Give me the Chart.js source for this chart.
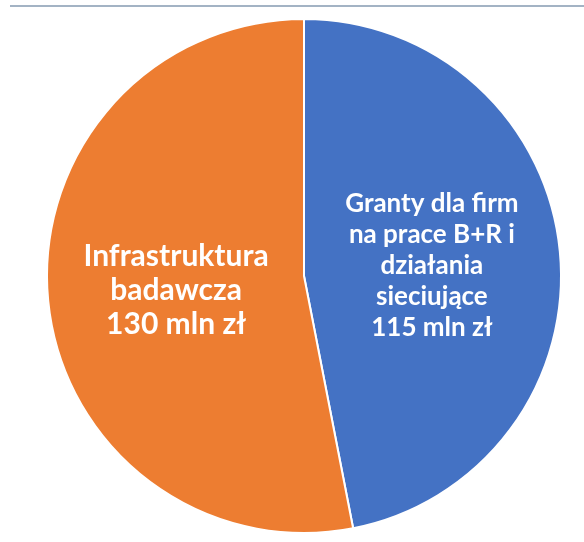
<!DOCTYPE html>
<html><head><meta charset="utf-8">
<script src="https://cdn.jsdelivr.net/npm/chart.js@4/dist/chart.umd.min.js"></script>
<style>html,body{margin:0;padding:0;background:#fff;}#wrap{width:584px;height:542px;position:relative;}</style>
</head><body><div id="wrap"><canvas id="c"></canvas></div>
<script>
const categories = ["Granty dla firm na prace B+R i działania sieciujące", "Infrastruktura badawcza"];
const categoryLines = [["Granty dla firm","na prace B+R i","działania","sieciujące"],["Infrastruktura","badawcza"]];
const values = [115, 130];
const unit = "mln zł";
const colors = ["#4472C4", "#ED7D31"];

const topLine = {id:'topLine', beforeDraw(chart){const c=chart.ctx;c.save();c.fillStyle='#fff';c.fillRect(0,0,chart.width,chart.height);c.strokeStyle='#a3b3c4';c.lineWidth=2;c.beginPath();c.moveTo(10,6);c.lineTo(chart.width,6);c.stroke();c.restore();}};
const sliceLabels = {id:'sliceLabels', afterDatasetsDraw(chart){
  const c=chart.ctx; const meta=chart.getDatasetMeta(0);
  const cfg=[{f:0.5,lh:31,dy:2,size:26},{f:0.5,lh:34,dy:2,size:30}];
  meta.data.forEach((arc,i)=>{
    const p=arc.getProps(['x','y','startAngle','endAngle','outerRadius'],true);
    const mid=(p.startAngle+p.endAngle)/2; const r=p.outerRadius*cfg[i].f;
    const x=p.x+Math.cos(mid)*r, y=p.y+Math.sin(mid)*r+cfg[i].dy;
    const lines=[...categoryLines[i], values[i]+" "+unit];
    c.save();c.fillStyle='#fff';c.font='bold '+cfg[i].size+'px Lato';c.textAlign='center';c.textBaseline='middle';
    const lh=cfg[i].lh; const y0=y-(lines.length-1)*lh/2;
    lines.forEach((t,k)=>c.fillText(t,x,y0+k*lh));
    c.restore();
  });
}};
new Chart(document.getElementById('c'),{
  type:'pie',
  data:{labels:categories,datasets:[{data:values,backgroundColor:colors,borderColor:'#fff',borderWidth:2}]},
  options:{responsive:true,maintainAspectRatio:false,animation:false,
    layout:{padding:{left:46,right:22,top:18,bottom:8}},
    plugins:{legend:{display:false},tooltip:{enabled:false}}},
  plugins:[topLine,sliceLabels]
});
</script></body></html>
